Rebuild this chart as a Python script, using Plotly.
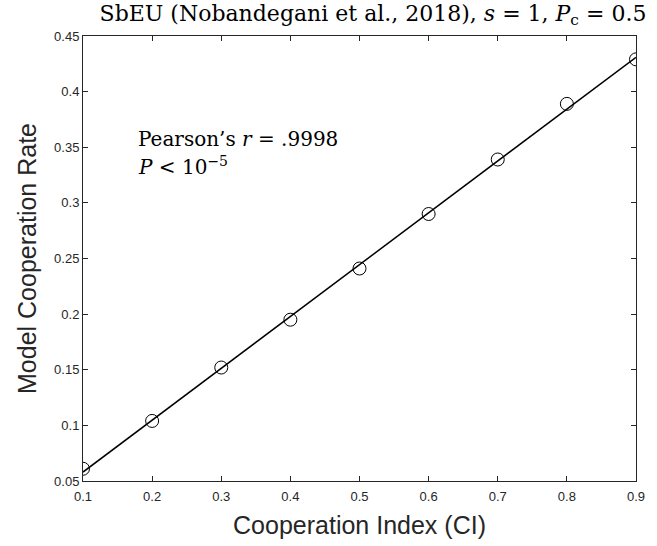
import numpy as np
import plotly.graph_objects as go

ci = [0.1, 0.2, 0.3, 0.4, 0.5, 0.6, 0.7, 0.8, 0.9]
coop_rate = [0.061, 0.104, 0.152, 0.195, 0.241, 0.290, 0.339, 0.389, 0.429]
x_ticks = [0.1, 0.2, 0.3, 0.4, 0.5, 0.6, 0.7, 0.8, 0.9]
y_ticks = [0.05, 0.1, 0.15, 0.2, 0.25, 0.3, 0.35, 0.4, 0.45]

slope, intercept = np.polyfit(ci, coop_rate, 1)
line_x = [ci[0], ci[-1]]
line_y = [intercept + slope * v for v in line_x]

fig = go.Figure()
fig.add_trace(go.Scatter(x=line_x, y=line_y, mode="lines",
                         line=dict(color="black", width=1.5), showlegend=False))
fig.add_trace(go.Scatter(x=ci, y=coop_rate, mode="markers",
                         marker=dict(symbol="circle-open", size=13, color="black",
                                     line=dict(width=1, color="black")),
                         showlegend=False))

axis_common = dict(showgrid=False, zeroline=False, showline=True, mirror="ticks",
                   linecolor="#262626", linewidth=1, ticks="inside", ticklen=5,
                   tickcolor="#262626", tickfont=dict(family="Liberation Sans", size=13, color="#262626"))

fig.update_xaxes(range=[0.1, 0.9], tickvals=x_ticks, ticktext=[f"{v:g}" for v in x_ticks],
                 ticklabelstandoff=3,
                 title=dict(text="Cooperation Index (CI)", font=dict(family="Liberation Sans", size=25, color="#262626"), standoff=13),
                 **axis_common)
fig.update_yaxes(range=[0.05, 0.45], tickvals=y_ticks, ticktext=[f"{v:g}" for v in y_ticks],
                 title=dict(text="Model Cooperation Rate", font=dict(family="Liberation Sans", size=25, color="#262626"), standoff=10),
                 **axis_common)

fig.add_annotation(x=0.177, y=0.357, xref="x", yref="y", xanchor="left", yanchor="middle",
                   text="Pearson’s <i>r</i> = .9998", showarrow=False,
                   font=dict(family="DejaVu Serif", size=20, color="black"))
fig.add_annotation(x=0.177, y=0.333, xref="x", yref="y", xanchor="left", yanchor="middle",
                   text="<i>P</i> &lt; 10<sup>−5</sup>", showarrow=False,
                   font=dict(family="DejaVu Serif", size=20, color="black"))

fig.update_layout(
    width=657, height=546,
    margin=dict(l=83, r=21, t=36, b=65),
    paper_bgcolor="white", plot_bgcolor="white",
    title=dict(text="SbEU (Nobandegani et al., 2018), <i>s</i> = 1, <i>P</i><sub>c</sub> = 0.5",
               x=373 / 657, xanchor="center", y=1 - 13 / 546, yanchor="middle",
               font=dict(family="DejaVu Serif", size=22, color="black")),
)

fig.write_html("out.html", config={"displayModeBar": False},
               post_script="document.body.style.margin='0';")
